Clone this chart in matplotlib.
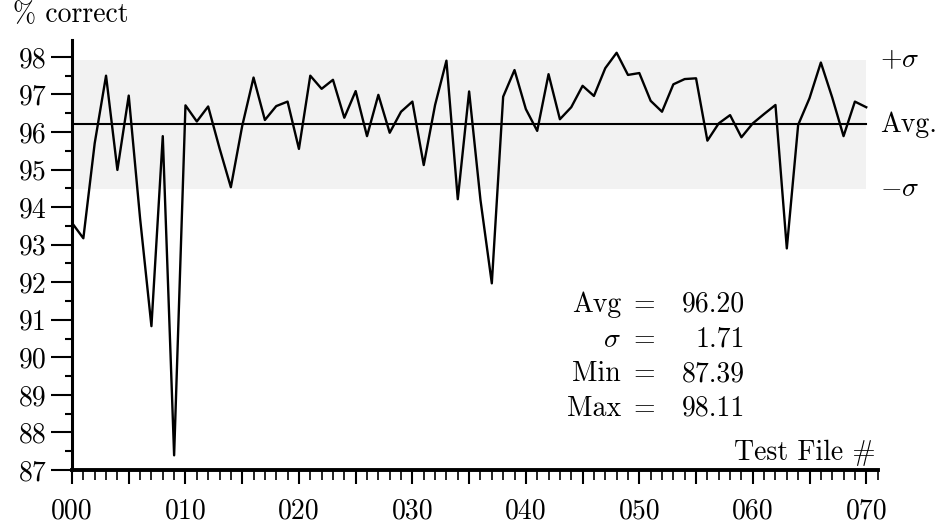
import matplotlib
matplotlib.use('Agg')
import matplotlib.pyplot as plt
from matplotlib.ticker import MultipleLocator

plt.rcParams['font.family'] = ['cmr10']
plt.rcParams['mathtext.fontset'] = 'cm'
plt.rcParams['axes.unicode_minus'] = False

# percent correct per test file
test_file = list(range(71))
pct_correct = [93.58, 93.17, 95.70, 97.50, 94.99, 96.97, 93.70, 90.83, 95.89, 87.39,
               96.71, 96.28, 96.68, 95.57, 94.53, 96.16, 97.45, 96.32, 96.69, 96.81,
               95.55, 97.50, 97.15, 97.39, 96.38, 97.09, 95.89, 96.99, 95.98, 96.54,
               96.81, 95.12, 96.72, 97.90, 94.21, 97.08, 94.19, 91.97, 96.94, 97.65,
               96.61, 96.03, 97.54, 96.34, 96.66, 97.23, 96.96, 97.70, 98.11, 97.52,
               97.57, 96.83, 96.54, 97.27, 97.41, 97.43, 95.77, 96.23, 96.45, 95.86,
               96.23, 96.48, 96.72, 92.90, 96.19, 96.90, 97.85, 96.92, 95.89, 96.81,
               96.66]

avg = 96.20
sigma = 1.71
stat_names = ['Avg', r'$\sigma$', 'Min', 'Max']
stat_values = ['96.20', '1.71', '87.39', '98.11']

fig = plt.figure(figsize=(9.4, 5.25), dpi=100)
ax = fig.add_axes([0.0766, 0.1048, 0.857, 0.819])

# shaded +/- sigma band and average line
ax.fill_between([test_file[0], test_file[-1]], avg - sigma, avg + sigma,
                color='#f2f2f2', lw=0, zorder=0)
ax.plot([test_file[0], test_file[-1]], [avg, avg], color='black', lw=1.5, zorder=1)
ax.plot(test_file, pct_correct, color='black', lw=1.7, zorder=2)

ax.set_xlim(0, 71)
ax.set_ylim(87, 98.45)

for s in ['top', 'right']:
    ax.spines[s].set_visible(False)
ax.spines['left'].set_linewidth(2.2)
ax.spines['bottom'].set_linewidth(2.8)

xt = list(range(0, 71, 5))
ax.set_xticks(xt)
ax.set_xticklabels([f'{v:03d}' if v % 10 == 0 else '' for v in xt])
ax.xaxis.set_minor_locator(MultipleLocator(1))
ax.set_yticks(range(87, 99))
ax.yaxis.set_minor_locator(MultipleLocator(0.5))

ax.tick_params(axis='x', which='major', direction='out', length=10, width=1.5,
               labelsize=20, pad=10)
ax.tick_params(axis='x', which='minor', direction='out', length=7, width=1.2)
ax.tick_params(axis='y', which='major', direction='out', length=15, width=1.5,
               labelsize=20, pad=3)
ax.tick_params(axis='y', which='minor', direction='out', length=5, width=1.5)

# right-hand band labels
ax.text(71.2, avg + sigma, r'$+\sigma$', fontsize=20, va='center', ha='left', clip_on=False)
ax.text(71.2, avg, 'Avg.', fontsize=20, va='center', ha='left', clip_on=False)
ax.text(71.2, avg - sigma, r'$-\sigma$', fontsize=20, va='center', ha='left', clip_on=False)

# statistics block
stat_y = [91.21, 90.28, 89.36, 88.44]
for name, val, y in zip(stat_names, stat_values, stat_y):
    ax.text(48.4, y, name, fontsize=20, ha='right', va='baseline')
    ax.text(50.4, y, '=', fontsize=20, ha='center', va='baseline')
    ax.text(59.3, y, val, fontsize=20, ha='right', va='baseline')

ax.text(70.8, 87.45, 'Test File #', fontsize=20, ha='right', va='center')
fig.text(0.014, 0.972, '% correct', fontsize=20, ha='left', va='center')

fig.savefig('out.png', dpi=100)
